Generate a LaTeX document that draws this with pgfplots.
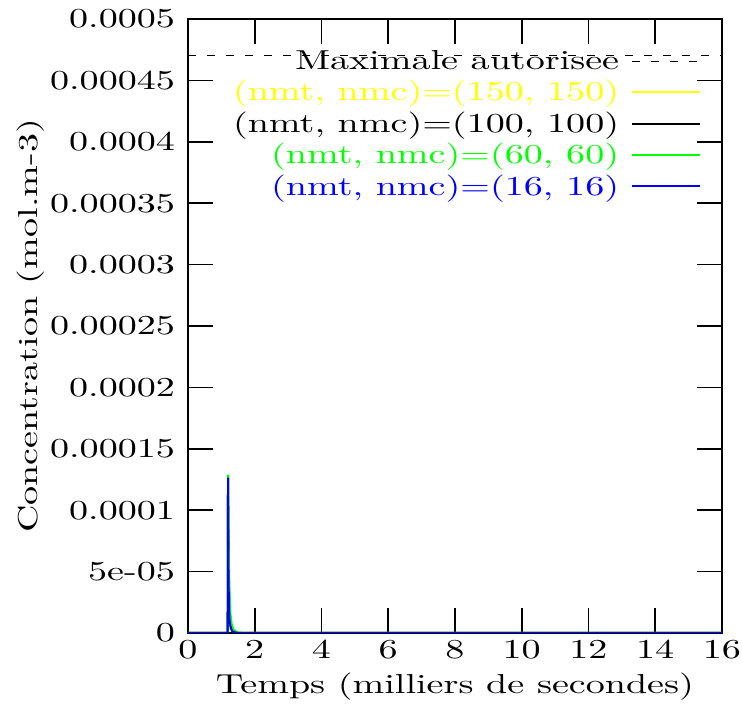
\documentclass[border=0pt]{standalone}
\usepackage{fontspec}
\setmainfont{lmroman10-regular.otf}[FakeStretch=1.39]
\usepackage{pgfplots}
\pgfplotsset{compat=1.18}
\definecolor{gyellow}{HTML}{FFFF00}
\definecolor{ggreen}{HTML}{00FF00}
\definecolor{gblue}{HTML}{0000FF}
\newcommand{\gfont}{\fontsize{13.7}{16}\selectfont}

\begin{document}
\begin{tikzpicture}
\begin{axis}[
    scale only axis,
    width=267pt, height=307pt,
    xmin=0, xmax=16,
    ymin=0, ymax=0.0005,
    xtick={0,2,4,6,8,10,12,14,16},
    ytick={0,0.00005,0.0001,0.00015,0.0002,0.00025,0.0003,0.00035,0.0004,0.00045,0.0005},
    yticklabels={0,5e-05,0.0001,0.00015,0.0002,0.00025,0.0003,0.00035,0.0004,0.00045,0.0005},
    scaled y ticks=false,
    tick align=inside,
    major tick length=12.5pt,
    axis line style={line width=1pt},
    every tick/.style={black, line width=0.8pt},
    /pgf/number format/assume math mode=true,
    tick label style={font=\gfont},
    xticklabel style={inner xsep=0.5pt},
    yticklabel style={xshift=-3pt},
    label style={font=\gfont},
    xlabel={Temps (milliers de secondes)},
    ylabel={Concentration (mol.m-3)},
    ylabel style={yshift=-4pt},
    legend style={
        draw=none, fill=none, font=\gfont,
        at={(0.961,0.955)}, anchor=north east,
        inner sep=0pt, outer sep=0pt,
        row sep=-0.1pt,
    },
    legend cell align=right,
    legend plot pos=right,
    legend image code/.code={\path (0pt,0pt); \draw[#1] (4pt,0pt) -- (38pt,0pt);},
    every axis plot/.append style={line width=1pt},
]

% seuil
\addplot[black, line width=0.6pt, dash pattern=on 4pt off 5.5pt]
    coordinates {(0,0.00047) (16,0.00047)};
\addlegendentry{Maximale autorisee}

% (150,150)
\addplot[gyellow] coordinates {
    (0,0) (1.19,0) (1.2,0.0001275) (1.215,0.00007) (1.23,0.000035)
    (1.25,0.000015) (1.28,0.000006) (1.33,0.000002) (1.45,0.0000003) (1.6,0) (16,0)
};
\addlegendentry{\textcolor{gyellow}{(nmt, nmc)=(150, 150)}}

% (100,100)
\addplot[black] coordinates {
    (0,0) (1.19,0) (1.2,0.000128) (1.215,0.00007) (1.23,0.000035)
    (1.25,0.000015) (1.28,0.000006) (1.33,0.000002) (1.45,0.0000003) (1.6,0) (16,0)
};
\addlegendentry{(nmt, nmc)=(100, 100)}

% (60,60)
\addplot[ggreen] coordinates {
    (0,0) (1.19,0) (1.2,0.000129) (1.22,0.00007) (1.24,0.000036)
    (1.27,0.000016) (1.31,0.000007) (1.37,0.0000025) (1.5,0.0000004) (1.7,0) (16,0)
};
\addlegendentry{\textcolor{ggreen}{(nmt, nmc)=(60, 60)}}

% (16,16)
\addplot[gblue] coordinates {
    (0,0) (1.19,0) (1.2,0.0001265) (1.21,0.00006) (1.225,0.000025)
    (1.245,0.00001) (1.28,0.000004) (1.33,0.0000012) (1.45,0.0000002) (1.6,0) (16,0)
};
\addlegendentry{\textcolor{gblue}{(nmt, nmc)=(16, 16)}}

\end{axis}
% marges de l'image
\path (current axis.south west) ++(-94pt,-31.5pt) coordinate (bbsw);
\path (current axis.north east) ++(10pt,9.5pt) coordinate (bbne);
\end{tikzpicture}
\end{document}
